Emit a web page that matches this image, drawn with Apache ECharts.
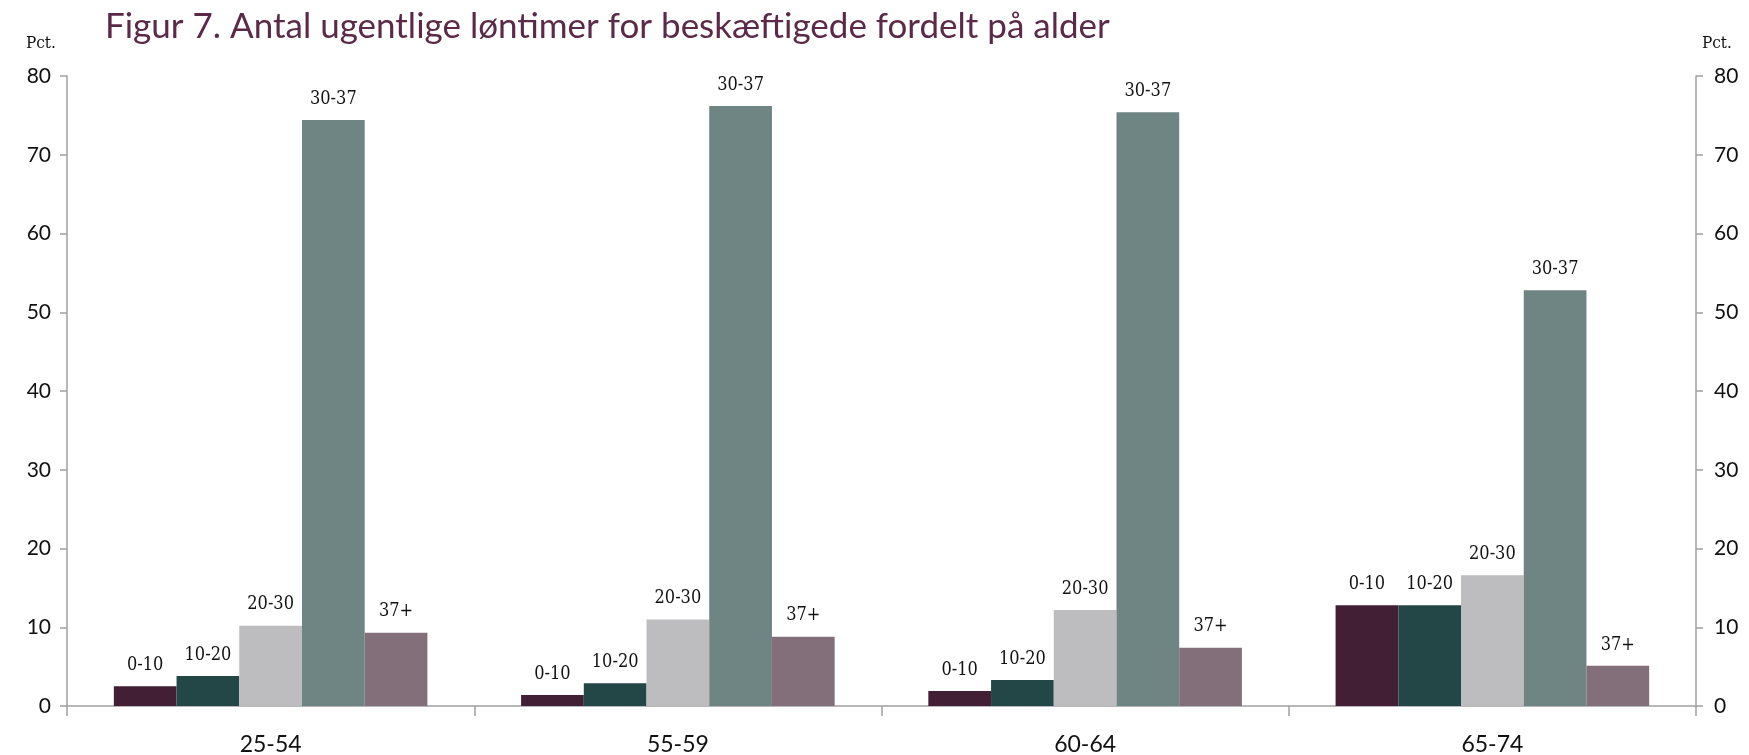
<!DOCTYPE html>
<html>
<head>
<meta charset="utf-8">
<script src="https://cdn.jsdelivr.net/npm/echarts@6/dist/echarts.min.js"></script>
<style>
html,body{margin:0;padding:0;background:#fff;}
#chart{width:1749px;height:755px;}
</style>
</head>
<body>
<div id="chart"></div>
<script>
const categories = ['25-54', '55-59', '60-64', '65-74'];
const seriesNames = ['0-10', '10-20', '20-30', '30-37', '37+'];
const v0_10 = [2.5, 1.4, 1.9, 12.8];
const v10_20 = [3.8, 2.9, 3.3, 12.8];
const v20_30 = [10.2, 11.0, 12.2, 16.6];
const v30_37 = [74.4, 76.2, 75.4, 52.8];
const v37plus = [9.3, 8.8, 7.4, 5.1];
const yTicks = [0, 10, 20, 30, 40, 50, 60, 70, 80];

const values = [v0_10, v10_20, v20_30, v30_37, v37plus];
const colors = ['#421f35', '#234746', '#bdbdbf', '#6f8583', '#836f7a'];

const chart = echarts.init(document.getElementById('chart'));
const axisColor = '#a0a0a0';
const yAxisBase = {
  type: 'value',
  min: yTicks[0],
  max: yTicks[yTicks.length - 1],
  interval: 10,
  splitLine: {show: false},
  axisLine: {show: true, lineStyle: {color: axisColor, width: 1.5}},
  axisTick: {show: true, length: 7, lineStyle: {color: axisColor, width: 1.5}},
  axisLabel: {fontFamily: 'Lato', fontSize: 21, color: '#111', margin: 16}
};
chart.setOption({
  animation: false,
  title: {
    text: 'Figur 7. Antal ugentlige løntimer for beskæftigede fordelt på alder',
    left: 100, top: 4,
    textStyle: {fontFamily: 'Lato', fontSize: 35, fontWeight: 'normal', color: '#5b2a48'}
  },
  graphic: [
    {type: 'text', left: 26, top: 35, style: {text: 'Pct.', font: '17px "DejaVu Serif Condensed"', fill: '#111'}},
    {type: 'text', left: 1702, top: 35, style: {text: 'Pct.', font: '17px "DejaVu Serif Condensed"', fill: '#111'}}
  ],
  grid: {left: 67, right: 53, top: 76, bottom: 49, containLabel: false, outerBoundsMode: 'none'},
  xAxis: {
    type: 'category',
    data: categories,
    axisLine: {lineStyle: {color: axisColor, width: 1.5}},
    axisTick: {show: true, length: 10, alignWithLabel: false, lineStyle: {color: axisColor, width: 1.5}},
    axisLabel: {fontFamily: 'Lato', fontSize: 23, color: '#111', margin: 27}
  },
  yAxis: [
    Object.assign({}, yAxisBase, {position: 'left'}),
    Object.assign({}, yAxisBase, {position: 'right', axisLabel: Object.assign({}, yAxisBase.axisLabel, {margin: 18})})
  ],
  series: seriesNames.map((name, i) => ({
    name: name,
    type: 'bar',
    yAxisIndex: 0,
    data: values[i],
    barGap: '0%',
    barCategoryGap: '23%',
    itemStyle: {color: colors[i]},
    label: {
      show: true, position: 'top', distance: 12,
      formatter: name,
      fontFamily: 'DejaVu Serif Condensed', fontSize: 18, color: '#111'
    }
  }))
});
</script>
</body>
</html>
